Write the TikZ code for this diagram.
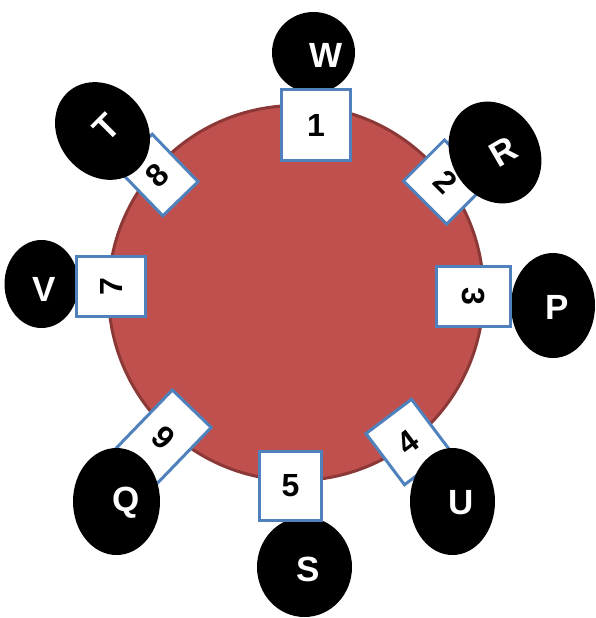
\documentclass[tikz,border=0pt]{standalone}
\usepackage{fontspec}
\setmainfont{Liberation Sans}
\usetikzlibrary{shapes.geometric}
\definecolor{discred}{HTML}{C0504D}
\definecolor{discedge}{HTML}{8C3836}
\definecolor{boxblue}{HTML}{4F81BD}
\begin{document}
\begin{tikzpicture}[x=1pt,y=-1pt,
  disc/.style={circle, draw=discedge, line width=3pt, fill=discred, minimum size=375pt, inner sep=0pt},
  numbox/.style={rectangle, draw=boxblue, line width=3pt, fill=white, inner sep=0pt,
    font=\fontsize{32}{32}\selectfont\bfseries},
  blob/.style={ellipse, fill=black, draw=none, inner sep=0pt},
  lettr/.style={text=white, inner sep=0pt, font=\fontsize{35}{35}\selectfont\bfseries}]
\useasboundingbox (0,0) rectangle (595,618);
% central disc
\node[disc] (c) at (296,293) {};
% ellipses lying under their boxes
\node[blob, minimum width=83pt, minimum height=81pt] (eW) at (313.5,52.5) {};
\node[blob, minimum width=84pt, minimum height=105pt] (eP) at (553,305.5) {};
\node[blob, minimum width=74pt, minimum height=88pt] (eV) at (41.5,284) {};
\node[blob, minimum width=95pt, minimum height=100pt] (eS) at (304.5,567) {};
% numbered boxes
\node[numbox, minimum width=69pt, minimum height=71pt] (b1) at (316,125) {1};
\node[numbox, minimum width=61pt, minimum height=58pt, rotate=-45] (b2) at (445.5,182) {2};
\node[numbox, minimum width=60pt, minimum height=74pt, rotate=-90] (b3) at (473.5,296.5) {3};
\node[numbox, minimum width=57pt, minimum height=64pt, rotate=37] (b4) at (408,442) {4};
\node[numbox, minimum width=62pt, minimum height=69pt] (b5) at (290.5,486) {5};
\node[numbox, minimum width=60pt, minimum height=69pt, rotate=90] (b7) at (111,286.5) {7};
\node[numbox, minimum width=49pt, minimum height=66pt, rotate=44] (b8) at (157.5,175) {8};
\node[numbox, minimum width=54pt, minimum height=80pt, rotate=-44] (b9) at (164,437.5) {9};
% ellipses lying over their boxes
\node[blob, minimum width=88pt, minimum height=104pt, rotate=40] (eT) at (102.5,131) {};
\node[blob, minimum width=88pt, minimum height=106pt, rotate=30] (eR) at (495,152.5) {};
\node[blob, minimum width=87pt, minimum height=107pt] (eQ) at (116.5,501.5) {};
\node[blob, minimum width=85pt, minimum height=107pt] (eU) at (452.5,501.5) {};
% letters
\node[lettr] (tW) at (326,55) {W};
\node[lettr, rotate=45] (tT) at (107,127) {T};
\node[lettr, rotate=30] (tR) at (503,152) {R};
\node[lettr] (tP) at (557,307) {P};
\node[lettr] (tV) at (44,289) {V};
\node[lettr] (tS) at (308,569) {S};
\node[lettr] (tQ) at (126,503) {Q};
\node[lettr] (tU) at (461,503) {U};
\end{tikzpicture}
\end{document}
